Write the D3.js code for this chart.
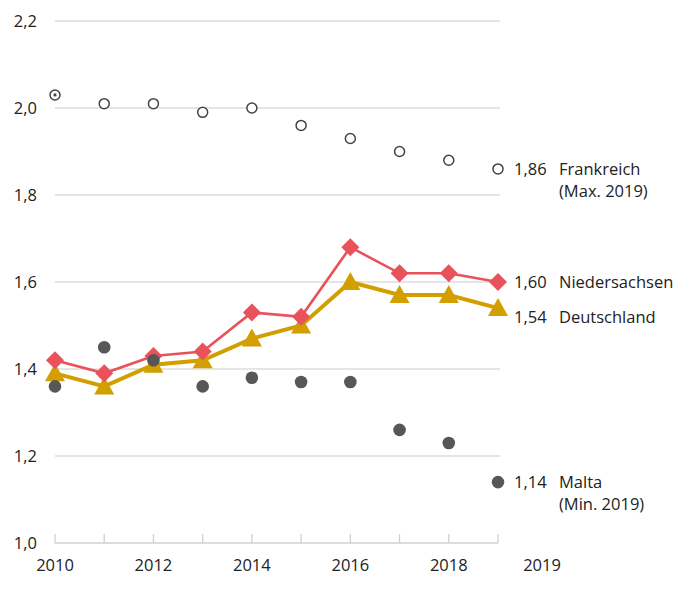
<!DOCTYPE html>
<html><head><meta charset="utf-8">
<script src="https://cdn.jsdelivr.net/npm/d3@7"></script>
<style>body{margin:0;background:#fff}svg{display:block}text{font-family:"Open Sans",sans-serif;fill:#222}</style>
</head><body><svg id="c" width="675" height="606"></svg>
<script>
const years = [2010,2011,2012,2013,2014,2015,2016,2017,2018,2019];
const frankreich = [2.03,2.01,2.01,1.99,2.00,1.96,1.93,1.90,1.88,1.86];
const niedersachsen = [1.42,1.39,1.43,1.44,1.53,1.52,1.68,1.62,1.62,1.60];
const deutschland = [1.39,1.36,1.41,1.42,1.47,1.50,1.60,1.57,1.57,1.54];
const malta = [1.36,1.45,1.42,1.36,1.38,1.37,1.37,1.26,1.23,1.14];
const yTicks = [1.0,1.2,1.4,1.6,1.8,2.0,2.2];
const xTickLabels = [2010,2012,2014,2016,2018];
const endLabels = [
  {value:"1,86", name:"Frankreich", sub:"(Max. 2019)", v:1.86},
  {value:"1,60", name:"Niedersachsen", sub:null, v:1.60},
  {value:"1,54", name:"Deutschland", sub:null, v:1.54},
  {value:"1,14", name:"Malta", sub:"(Min. 2019)", v:1.14}
];

const svg = d3.select("#c");
const x = d3.scaleLinear().domain([2010,2019]).range([55,498]);
const y = d3.scaleLinear().domain([1.0,2.2]).range([543,21]);
const fmt = v => d3.format(".1f")(v).replace(".", ",");
const FS = 16.5;

// gridlines
svg.append("g").selectAll("line").data(yTicks.slice(1)).join("line")
  .attr("x1", x(2010)).attr("x2", x(2019)+2)
  .attr("y1", d=>y(d)).attr("y2", d=>y(d))
  .attr("stroke","#dcdcdc").attr("stroke-width",1.3);

// y labels
svg.append("g").selectAll("text").data(yTicks).join("text")
  .attr("x",37).attr("y",d=>y(d)+6).attr("text-anchor","end")
  .attr("font-size",FS).text(fmt);

// x axis baseline with upward ticks
const ax = svg.append("g");
ax.append("line").attr("x1",x(2010)).attr("x2",x(2019)).attr("y1",y(1)).attr("y2",y(1))
  .attr("stroke","#d0d0d0").attr("stroke-width",1.3);
ax.selectAll("line.t").data(years).join("line").attr("class","t")
  .attr("x1",d=>x(d)).attr("x2",d=>x(d)).attr("y1",y(1)).attr("y2",y(1)-9)
  .attr("stroke","#d0d0d0").attr("stroke-width",1.3);
ax.selectAll("text").data(xTickLabels).join("text")
  .attr("x",d=>x(d)).attr("y",571).attr("text-anchor","middle").attr("font-size",FS).text(d=>d);
ax.append("text").attr("x",x(2019)+44).attr("y",571).attr("text-anchor","middle").attr("font-size",FS).text("2019");

const line = d3.line().x((d,i)=>x(years[i])).y(d=>y(d));

// Deutschland
svg.append("path").datum(deutschland).attr("d",line).attr("fill","none")
  .attr("stroke","#d39e00").attr("stroke-width",4);
svg.append("g").selectAll("path").data(deutschland).join("path")
  .attr("transform",(d,i)=>`translate(${x(years[i])},${y(d)})`)
  .attr("d","M0,-10L10,8L-10,8Z").attr("fill","#d39e00");

// Niedersachsen
svg.append("path").datum(niedersachsen).attr("d",line).attr("fill","none")
  .attr("stroke","#e9525a").attr("stroke-width",2.6);
svg.append("g").selectAll("path").data(niedersachsen).join("path")
  .attr("transform",(d,i)=>`translate(${x(years[i])},${y(d)})`)
  .attr("d","M0,-9L9,0L0,9L-9,0Z").attr("fill","#e9525a");

// Frankreich
svg.append("g").selectAll("circle").data(frankreich).join("circle")
  .attr("cx",(d,i)=>x(years[i])).attr("cy",d=>y(d)).attr("r",5)
  .attr("fill","#fff").attr("stroke","#444").attr("stroke-width",1.5);
svg.append("circle").attr("cx",x(years[0])).attr("cy",y(frankreich[0])).attr("r",1.6).attr("fill","#444");

// Malta
svg.append("g").selectAll("circle").data(malta).join("circle")
  .attr("cx",(d,i)=>x(years[i])).attr("cy",d=>y(d)).attr("r",6.3)
  .attr("fill","#575757");

// end labels with simple collision avoidance
let prev = -Infinity;
const placed = endLabels.map(d => {
  let cy = Math.max(y(d.v), prev + 35);
  prev = cy;
  return Object.assign({}, d, {cy});
});
const el = svg.append("g").selectAll("g").data(placed).join("g")
  .attr("transform",d=>`translate(0,${d.cy+6})`);
el.append("text").attr("x",514).attr("font-size",FS).text(d=>d.value);
el.append("text").attr("x",559).attr("font-size",FS).text(d=>d.name);
el.filter(d=>d.sub).append("text").attr("x",559).attr("y",22).attr("font-size",FS).text(d=>d.sub);
</script></body></html>
